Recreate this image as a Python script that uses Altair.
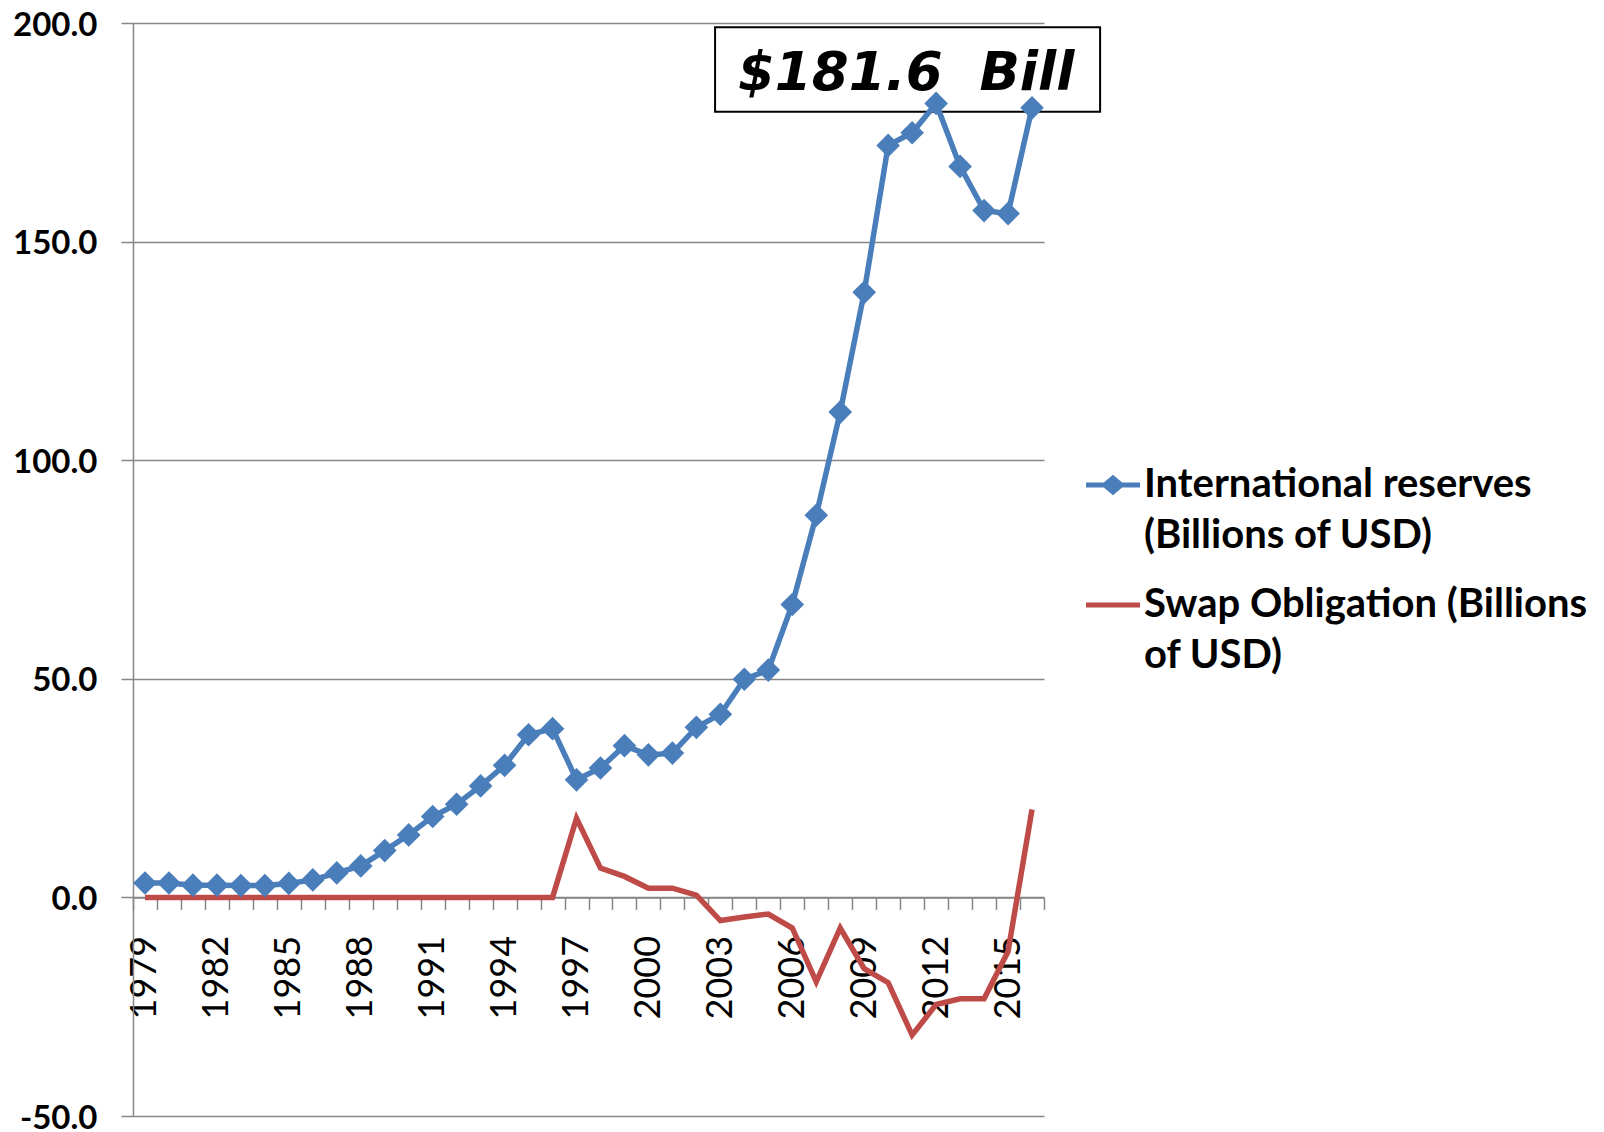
import altair as alt
import pandas as pd

# ---------------- data ----------------
years = list(range(1979, 2017))
reserves = [3.3, 3.3, 2.8, 2.8, 2.7, 2.7, 3.2, 4.0, 5.6, 7.2,
            10.7, 14.3, 18.5, 21.3, 25.5, 30.2, 37.2, 38.6, 26.9, 29.6,
            34.7, 32.6, 33.0, 38.9, 41.9, 49.9, 52.0, 67.0, 87.4, 111.0,
            138.4, 172.0, 174.9, 181.6, 167.2, 157.1, 156.4, 180.6]
swap = [0.0] * 18 + [18.1, 6.7, 4.8, 2.1, 2.1, 0.5, -5.3, -4.5, -3.8, -7.0,
                     -19.3, -7.0, -16.3, -19.5, -31.5, -24.5, -23.2, -23.2, -12.4, 20.1]
series_names = ["International reserves (Billions of USD)",
                "Swap Obligation (Billions of USD)"]
y_ticks = [-50, 0, 50, 100, 150, 200]
x_label_years = list(range(1979, 2016, 3))
x_tick_bounds = [y - 0.5 for y in range(1979, 2018)]
annot_text = ["$181.6\u00a0 Bill"]

COLORS = ["#4A7EBB", "#BE4B48"]
GRAY = "#868686"

df = pd.DataFrame({
    "year": years * 2,
    "value": reserves + swap,
    "series": [series_names[0]] * len(years) + [series_names[1]] * len(years),
})
df_res = df[df.series == series_names[0]]
df_swap = df[df.series == series_names[1]]

box_df = pd.DataFrame({"x": [2002.78], "x2": [2018.84], "y": [199.0], "y2": [179.7]})
txt_df = pd.DataFrame({"x": [2010.75], "y": [188.3], "t": annot_text})

x_scale = alt.Scale(domain=[1978.5, 2016.5], nice=False, zero=False)
y_scale = alt.Scale(domain=[-50, 200], nice=False, zero=False)
color_scale = alt.Scale(domain=series_names, range=COLORS)

res_path = "M-1,-0.09H-0.34L0,-0.38L0.34,-0.09H1V0.09H0.34L0,0.38L-0.34,0.09H-1Z"
swap_path = "M-1,-0.09H1V0.09H-1Z"
shape_scale = alt.Scale(domain=series_names, range=[res_path, swap_path])

zero_offset = {"expr": "scale('y', 0) - height"}

tick_axis = alt.Axis(orient="bottom", values=x_tick_bounds, labels=False, ticks=True,
                     tickSize=12, tickColor=GRAY, tickWidth=1.5, domain=True,
                     domainColor=GRAY, domainWidth=1.5, grid=False, title=None,
                     offset=zero_offset, zindex=0)
label_axis = alt.Axis(orient="bottom", values=x_label_years, ticks=False, domain=False,
                      grid=False, labelAngle=270, labelFont="Lato", labelFontSize=36,
                      labelColor="black", labelPadding=38, title=None, format="d",
                      offset=zero_offset, labelFlush=False, labelOverlap=False, zindex=0)
y_axis = alt.Axis(orient="left", values=y_ticks,
                  labelExpr="replace(format(datum.value, '.1f'), '\u2212', '-')",
                  grid=True, gridColor=GRAY,
                  gridWidth=1.5, tickSize=12, tickColor=GRAY, tickWidth=1.5,
                  domain=True, domainColor=GRAY, domainWidth=1.5, labelFont="Lato",
                  labelFontWeight="bold", labelFontSize=33, labelColor="black",
                  labelPadding=24, labelOffset=2, title=None, zindex=0)

label_expr = ("datum.label == '" + series_names[0] + "' ? "
              "['International reserves', '(Billions of USD)'] : "
              "['Swap Obligation (Billions', 'of USD)']")

legend = alt.Legend(
    title=None, orient="none", legendX=953, legendY=435, padding=0,
    labelExpr=label_expr, labelFont="Lato", labelFontWeight="bold", labelFontSize=40,
    labelColor="black", labelLimit=700, labelOffset=4, symbolSize=2916,
    symbolStrokeWidth=0, symbolOpacity=1, rowPadding=22,
)

box = alt.Chart(box_df).mark_rect(fill="white", stroke="black", strokeWidth=2).encode(
    x=alt.X("x:Q", scale=x_scale, axis=None),
    x2="x2:Q",
    y=alt.Y("y:Q", scale=y_scale, axis=y_axis),
    y2="y2:Q",
)
text = alt.Chart(txt_df).mark_text(font="DejaVu Sans", fontWeight="bold", fontStyle="italic",
                                   fontSize=53, color="black", align="center",
                                   baseline="middle").encode(
    x=alt.X("x:Q", scale=x_scale, axis=None),
    y=alt.Y("y:Q", scale=y_scale, axis=None),
    text="t:N",
)
legend_layer = alt.Chart(df).mark_point(filled=True, opacity=1).encode(
    x=alt.X("year:Q", scale=x_scale, axis=None),
    y=alt.Y("value:Q", scale=y_scale, axis=None),
    color=alt.Color("series:N", scale=color_scale, legend=legend),
    shape=alt.Shape("series:N", scale=shape_scale, legend=legend),
).transform_filter("false")
swap_line = alt.Chart(df_swap).mark_line(strokeWidth=5.5).encode(
    x=alt.X("year:Q", scale=x_scale, axis=tick_axis),
    y=alt.Y("value:Q", scale=y_scale, axis=None),
    color=alt.Color("series:N", scale=color_scale, legend=None),
)
res_line = alt.Chart(df_res).mark_line(
    strokeWidth=5.5,
    point=alt.OverlayMarkDef(shape="diamond", size=560, filled=True, opacity=1),
).encode(
    x=alt.X("year:Q", scale=x_scale, axis=label_axis),
    y=alt.Y("value:Q", scale=y_scale, axis=None),
    color=alt.Color("series:N", scale=color_scale, legend=None),
)

chart = alt.layer(box, text, legend_layer, swap_line, res_line).resolve_axis(
    x="independent", y="independent"
).properties(
    width=911, height=1093,
    padding={"left": 125, "top": 15, "right": 552, "bottom": 16},
    autosize=alt.AutoSizeParams(type="none"),
).configure(
    style={"guide-label": {"lineHeight": 51}},
    view=alt.ViewConfig(stroke=None),
)

chart.save("out.html", embed_options={"renderer": "svg", "actions": False})
